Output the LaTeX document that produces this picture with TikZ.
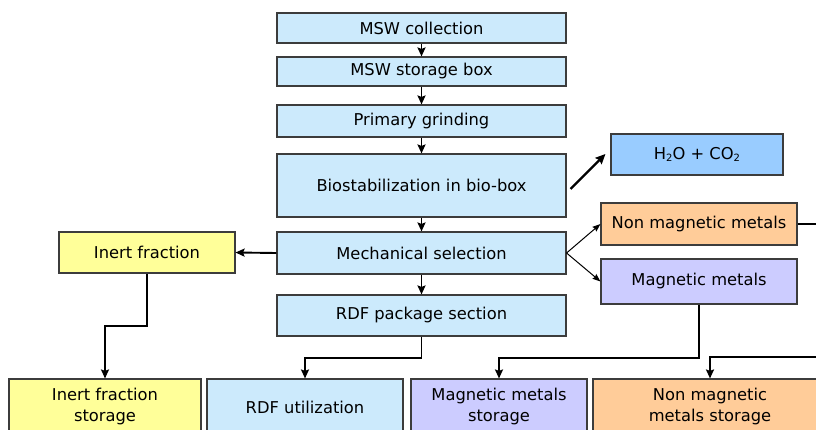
\documentclass[tikz,border=0pt]{standalone}
\usepackage{fontspec}
\setmainfont{DejaVu Sans}
\usetikzlibrary{arrows.meta}
\definecolor{cblue}{RGB}{204,234,252}
\definecolor{hblue}{RGB}{153,204,255}
\definecolor{corange}{RGB}{255,204,153}
\definecolor{clav}{RGB}{204,204,255}
\definecolor{cyel}{RGB}{255,255,153}
\definecolor{cbord}{RGB}{60,60,60}
\newcommand{\subtwo}{{\fontsize{10}{10}\selectfont\raisebox{-1.5pt}{2}}}
\tikzset{
  box/.style={draw=cbord, line width=1.1pt, inner sep=0pt, align=center,
    font=\fontsize{16.3}{21}\selectfont, text=black},
  arr/.style={line width=1.9pt, -{Stealth[length=9pt,width=8pt,inset=1.5pt]}},
  thinarr/.style={line width=1pt, -{Stealth[length=8pt,width=6pt,inset=1pt]}},
  conn/.style={line width=1.9pt}
}
\begin{document}
\begin{tikzpicture}[x=1pt,y=-1pt]
\useasboundingbox (0,0) rectangle (816,430);
\fill[white] (0,0) rectangle (816,430);
\clip (0,0) rectangle (816,430);
% central column
\node[box, fill=cblue, minimum width=289pt, minimum height=30pt] (col) at (421.5,28) {MSW collection};
\node[box, fill=cblue, minimum width=289pt, minimum height=29pt] (stor) at (421.5,71.5) {MSW storage box};
\node[box, fill=cblue, minimum width=289pt, minimum height=32pt] (grind) at (421.5,121) {Primary grinding};
\node[box, fill=cblue, minimum width=289pt, minimum height=63pt] (bio) at (421.5,185.5) {Biostabilization in bio-box};
\node[box, fill=cblue, minimum width=289pt, minimum height=42pt] (mech) at (421.5,253) {Mechanical selection};
\node[box, fill=cblue, minimum width=289pt, minimum height=41pt] (rdfp) at (421.5,315.5) {RDF package section};
% right side
\node[box, fill=hblue, minimum width=172pt, minimum height=41pt] (gas) at (697,154.5) {H\subtwo O + CO\subtwo};
\node[box, fill=corange, minimum width=196pt, minimum height=42pt] (nonmag) at (699,224) {Non magnetic metals};
\node[box, fill=clav, minimum width=196pt, minimum height=45pt] (mag) at (699,281.5) {Magnetic metals};
% left side
\node[box, fill=cyel, minimum width=176pt, minimum height=41pt] (inert) at (147,252.5) {Inert fraction};
% bottom row
\node[box, fill=cyel, minimum width=192pt, minimum height=56pt] (istor) at (105,407) {Inert fraction\\storage};
\node[box, fill=cblue, minimum width=196pt, minimum height=56pt] (rdfu) at (305,407) {RDF utilization};
\node[box, fill=clav, minimum width=176pt, minimum height=56pt] (mstor) at (499,407) {Magnetic metals\\storage};
\node[box, fill=corange, minimum width=234pt, minimum height=56pt] (nstor) at (710,407) {Non magnetic\\metals storage};
% central arrows
\draw[arr] (col.south) -- (stor.north);
\draw[arr] (stor.south) -- (grind.north);
\draw[arr] (grind.south) -- (bio.north);
\draw[arr] (bio.south) -- (mech.north);
\draw[arr] (mech.south) -- (rdfp.north);
% side arrows
\draw[line width=2.3pt, -{Stealth[length=10pt,width=9pt,inset=1.5pt]}] ([xshift=4pt,yshift=-3.5pt]bio.east) -- ([xshift=-5pt,yshift=0.5pt]gas.west);
\draw[thinarr] (mech.east) -- (nonmag.west);
\draw[thinarr] (mech.east) -- (mag.west);
\draw[arr] (mech.west) -- (inert.east);
% down connectors
\draw[arr] (inert.south) -- (147,326) -- (105,326) -- (istor.north);
\draw[arr] (rdfp.south) -- (421.5,358) -- (305,358) -- (rdfu.north);
\draw[arr] (mag.south) -- (699,358) -- (499,358) -- (mstor.north);
\coordinate (rin) at (816,357);
\coordinate (rout) at (816,224);
\draw[arr] (rin) -- (710,357) -- (nstor.north);
\draw[conn] (nonmag.east) -- (rout);
\end{tikzpicture}
\end{document}
